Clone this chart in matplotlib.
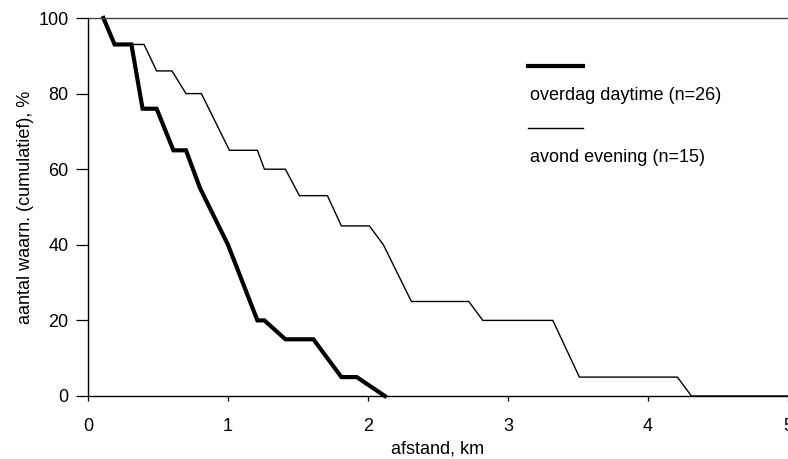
import matplotlib
matplotlib.use('Agg')
import matplotlib.pyplot as plt
from matplotlib.lines import Line2D

plt.rcParams['font.family'] = ['Liberation Sans', 'DejaVu Sans']

# overdag / daytime (n=26)
day_km = [0.11, 0.19, 0.31, 0.39, 0.49, 0.61, 0.70, 0.80, 1.00, 1.21, 1.26, 1.41, 1.61, 1.81, 1.92, 2.12]
day_pct = [100, 93, 93, 76, 76, 65, 65, 55, 40, 20, 20, 15, 15, 5, 5, 0]

# avond / evening (n=15)
eve_km = [0.11, 0.19, 0.40, 0.49, 0.60, 0.70, 0.81, 1.01, 1.21, 1.26, 1.41, 1.51, 1.71, 1.81, 2.01,
          2.11, 2.31, 2.72, 2.82, 3.32, 3.51, 4.21, 4.31, 5.0]
eve_pct = [100, 93, 93, 86, 86, 80, 80, 65, 65, 60, 60, 53, 53, 45, 45,
           40, 25, 25, 20, 20, 5, 5, 0, 0]

labels = ['overdag daytime (n=26)', 'avond evening (n=15)']
xticks = [0, 1, 2, 3, 4, 5]
yticks = [0, 20, 40, 60, 80, 100]

fig = plt.figure(figsize=(7.88, 4.59), dpi=100)
ax = fig.add_axes([88/788, 63/459, 700/788, 378/459])

ax.plot(day_km, day_pct, color='black', lw=3.0, solid_joinstyle='miter', clip_on=False)
ax.plot(eve_km, eve_pct, color='black', lw=1.0, clip_on=False)

ax.set_xlim(0, 5)
ax.set_ylim(0, 100)
ax.set_xticks(xticks)
ax.set_yticks(yticks)
ax.tick_params(axis='y', direction='out', length=9, width=0.9, pad=5, labelsize=13)
ax.tick_params(axis='x', direction='out', length=3.5, width=0.9, pad=12, labelsize=13)

ax.spines['right'].set_visible(False)
for s in ['left', 'bottom']:
    ax.spines[s].set_linewidth(1.0)
ax.spines['top'].set_linewidth(1.0)
ax.spines['top'].set_color('#444444')

ax.set_xlabel('afstand, km', fontsize=13, labelpad=4)
ax.set_ylabel('aantal waarn. (cumulatief), %', fontsize=13, labelpad=3)

# legend: line sample above its text
ax.add_line(Line2D([0.629, 0.707], [0.873, 0.873], transform=ax.transAxes, color='black', lw=3.0))
ax.text(0.632, 0.794, labels[0], transform=ax.transAxes, fontsize=13, va='center', ha='left')
ax.add_line(Line2D([0.629, 0.707], [0.709, 0.709], transform=ax.transAxes, color='black', lw=1.0))
ax.text(0.632, 0.632, labels[1], transform=ax.transAxes, fontsize=13, va='center', ha='left')

fig.savefig('out.png', dpi=100)
